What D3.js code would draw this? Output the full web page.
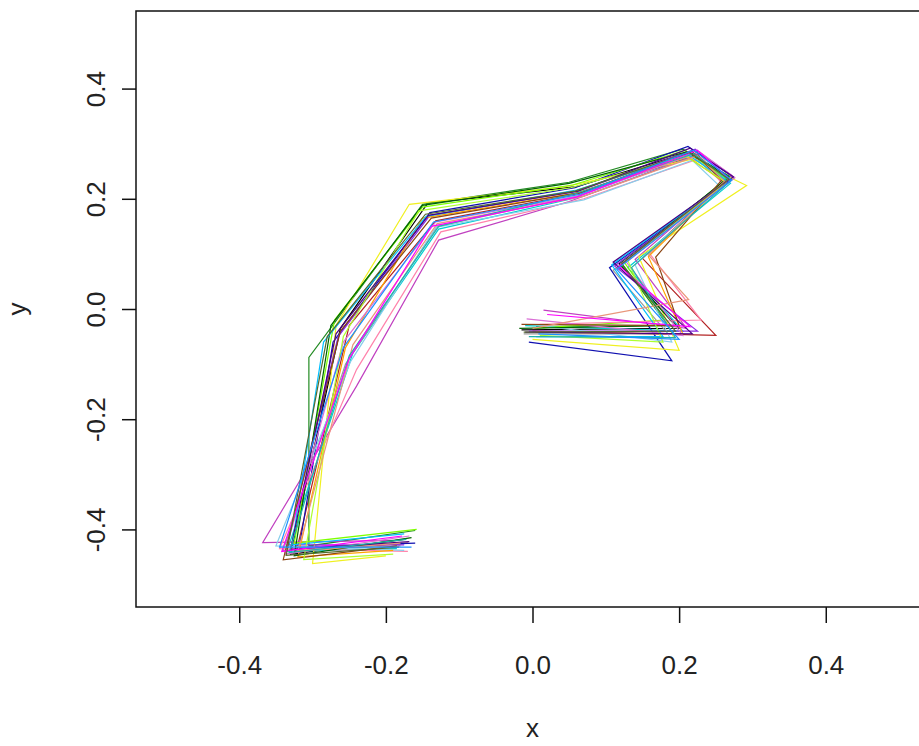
<!DOCTYPE html>
<html>
<head>
<meta charset="utf-8">
<script src="https://cdn.jsdelivr.net/npm/d3@7"></script>
<style>
  html, body { margin: 0; padding: 0; background: #fff; }
  svg { display: block; }
  text { font-family: "Liberation Sans", Arial, sans-serif; fill: #222; }
</style>
</head>
<body>
<svg id="chart" width="919" height="746"></svg>
<script>
// ---- data: landmark outlines (x, y), 10 landmarks each ----
const s1  = [[-0.175,-0.418],[-0.330,-0.445],[-0.262,-0.035],[-0.143,0.192],[0.060,0.222],[0.215,0.285],[0.268,0.238],[0.118,0.082],[0.200,-0.035],[-0.015,-0.038]];
const s2  = [[-0.170,-0.425],[-0.322,-0.440],[-0.250,-0.030],[-0.132,0.160],[0.065,0.210],[0.225,0.280],[0.262,0.232],[0.150,0.092],[0.250,-0.048],[0.000,-0.040]];
const s3  = [[-0.160,-0.402],[-0.305,-0.430],[-0.305,-0.088],[-0.150,0.190],[0.050,0.230],[0.205,0.290],[0.270,0.240],[0.120,0.085],[0.185,-0.030],[0.005,-0.032]];
const s4  = [[-0.160,-0.425],[-0.318,-0.432],[-0.272,-0.060],[-0.140,0.175],[0.058,0.220],[0.212,0.295],[0.275,0.238],[0.105,0.075],[0.190,-0.094],[-0.005,-0.060]];
const s5  = [[-0.185,-0.435],[-0.335,-0.440],[-0.245,-0.080],[-0.128,0.145],[0.070,0.205],[0.220,0.278],[0.270,0.228],[0.130,0.075],[0.205,-0.040],[-0.010,-0.030]];
const s6  = [[-0.190,-0.420],[-0.368,-0.424],[-0.240,-0.140],[-0.128,0.125],[0.050,0.195],[0.230,0.282],[0.272,0.242],[0.140,0.090],[0.210,-0.035],[0.015,-0.002]];
const s7  = [[-0.200,-0.448],[-0.300,-0.462],[-0.268,-0.030],[-0.168,0.190],[0.045,0.222],[0.218,0.272],[0.292,0.224],[0.145,0.095],[0.200,-0.075],[0.000,-0.055]];
const s8  = [[-0.180,-0.430],[-0.340,-0.438],[-0.255,-0.100],[-0.130,0.150],[0.062,0.205],[0.215,0.283],[0.262,0.226],[0.110,0.070],[0.185,-0.045],[-0.012,-0.045]];
const s9  = [[-0.158,-0.400],[-0.325,-0.425],[-0.270,-0.020],[-0.150,0.185],[0.055,0.225],[0.208,0.288],[0.265,0.236],[0.125,0.085],[0.180,-0.020],[0.000,-0.035]];
const s10 = [[-0.170,-0.440],[-0.345,-0.435],[-0.240,-0.110],[-0.125,0.140],[0.070,0.200],[0.232,0.275],[0.258,0.228],[0.160,0.100],[0.230,-0.020],[0.010,-0.028]];
const s11 = [[-0.175,-0.428],[-0.335,-0.428],[-0.265,-0.050],[-0.140,0.170],[0.062,0.214],[0.222,0.290],[0.270,0.235],[0.112,0.078],[0.225,-0.040],[-0.005,-0.040]];
const s12 = [[-0.175,-0.438],[-0.350,-0.430],[-0.248,-0.095],[-0.132,0.148],[0.070,0.198],[0.218,0.270],[0.256,0.222],[0.140,0.080],[0.190,-0.060],[0.010,-0.030]];
const s13 = [[-0.190,-0.438],[-0.320,-0.450],[-0.255,-0.070],[-0.150,0.165],[0.058,0.210],[0.212,0.276],[0.262,0.230],[0.158,0.095],[0.205,-0.045],[0.005,-0.042]];
const s14 = [[-0.165,-0.415],[-0.325,-0.448],[-0.275,-0.030],[-0.150,0.188],[0.050,0.228],[0.210,0.285],[0.268,0.240],[0.120,0.080],[0.195,-0.030],[-0.018,-0.035]];
const s15 = [[-0.168,-0.412],[-0.338,-0.445],[-0.258,-0.060],[-0.132,0.158],[0.066,0.206],[0.228,0.285],[0.276,0.238],[0.128,0.085],[0.205,-0.048],[-0.008,-0.018]];
const s16 = [[-0.175,-0.408],[-0.328,-0.428],[-0.285,-0.060],[-0.145,0.168],[0.060,0.216],[0.212,0.280],[0.266,0.232],[0.108,0.080],[0.178,-0.050],[0.005,-0.050]];
const s17 = [[-0.185,-0.430],[-0.340,-0.455],[-0.262,-0.040],[-0.138,0.165],[0.068,0.212],[0.218,0.286],[0.258,0.234],[0.168,0.094],[0.200,-0.030],[-0.015,-0.028]];
const s18 = [[-0.190,-0.445],[-0.312,-0.455],[-0.258,-0.050],[-0.155,0.178],[0.052,0.220],[0.208,0.278],[0.264,0.230],[0.130,0.088],[0.178,-0.060],[0.010,-0.048]];
const s19 = [[-0.168,-0.422],[-0.330,-0.436],[-0.268,-0.045],[-0.142,0.170],[0.062,0.214],[0.215,0.292],[0.274,0.240],[0.110,0.085],[0.218,-0.045],[-0.010,-0.042]];
const s20 = [[-0.180,-0.425],[-0.320,-0.440],[-0.245,-0.065],[-0.130,0.155],[0.068,0.204],[0.225,0.278],[0.262,0.232],[0.158,0.098],[0.213,0.017],[0.000,-0.035]];
const s21 = [[-0.172,-0.418],[-0.332,-0.442],[-0.250,-0.085],[-0.128,0.150],[0.060,0.210],[0.220,0.282],[0.270,0.232],[0.135,0.075],[0.195,-0.052],[-0.005,-0.050]];
const s22 = [[-0.178,-0.412],[-0.342,-0.440],[-0.250,-0.090],[-0.138,0.150],[0.060,0.203],[0.225,0.288],[0.268,0.236],[0.118,0.078],[0.215,-0.032],[0.020,-0.010]];
const s23 = [[-0.182,-0.432],[-0.336,-0.447],[-0.280,-0.050],[-0.146,0.172],[0.058,0.214],[0.214,0.284],[0.268,0.236],[0.122,0.082],[0.195,-0.040],[-0.012,-0.042]];
const s24 = [[-0.165,-0.432],[-0.345,-0.432],[-0.258,-0.070],[-0.135,0.158],[0.064,0.208],[0.220,0.288],[0.272,0.234],[0.115,0.072],[0.200,-0.055],[0.008,-0.045]];

const shapes = [s1,s2,s3,s4,s5,s6,s7,s8,s9,s10,s11,s12,s13,s14,s15,s16,s17,s18,s19,s20,s21,s22,s23,s24];
const colors = ["#000000","#B22222","#228B22","#1010B0","#00CED1","#C040C0","#F0F020","#999999",
                "#7FFF00","#FF82AB","#8A2BE2","#87CEEB","#FFA500","#006400","#DA70D6","#00BFFF",
                "#8B4513","#ADFF2F","#4B0082","#E9967A","#20B2AA","#FF00FF","#556B2F","#1E90FF"];

const xTicks = [-0.4,-0.2,0.0,0.2,0.4];
const yTicks = [-0.4,-0.2,0.0,0.2,0.4];
const xDomain = [-0.5408, 0.5408];
const yDomain = [-0.5408, 0.5408];

// ---- layout ----
const svg = d3.select("#chart");
const L = 136, T = 11, R = 929, B = 607;
const x = d3.scaleLinear().domain(xDomain).range([L, R]);
const y = d3.scaleLinear().domain(yDomain).range([B, T]);
const fmt = d => d3.format(".1f")(d).replace("\u2212", "-");

// lines
const line = d3.line().x(d => x(d[0])).y(d => y(d[1]));
svg.append("g").selectAll("path")
  .data(shapes)
  .join("path")
  .attr("d", line)
  .attr("fill", "none")
  .attr("stroke", (d, i) => colors[i % colors.length])
  .attr("stroke-width", 1.2)
  .attr("stroke-linejoin", "miter");

// box
svg.append("rect")
  .attr("x", L).attr("y", T).attr("width", R - L).attr("height", B - T)
  .attr("fill", "none").attr("stroke", "#111").attr("stroke-width", 1.5);

// x axis
const xa = svg.append("g").attr("transform", `translate(0,${B})`)
  .call(d3.axisBottom(x).tickValues(xTicks).tickFormat(fmt).tickSize(16).tickPadding(0));
xa.select(".domain").remove();
xa.selectAll(".tick line").attr("stroke", "#111").attr("stroke-width", 1.5);
xa.selectAll(".tick text").attr("y", 67).attr("dy", 0)
  .style("font-size", "26px").style("font-family", "Liberation Sans, Arial, sans-serif").attr("fill", "#222");

// y axis
const ya = svg.append("g").attr("transform", `translate(${L},0)`)
  .call(d3.axisLeft(y).tickValues(yTicks).tickFormat(fmt).tickSize(14).tickPadding(0));
ya.select(".domain").remove();
ya.selectAll(".tick line").attr("stroke", "#111").attr("stroke-width", 1.5);
ya.selectAll(".tick text")
  .attr("x", 0).attr("dy", 0).attr("text-anchor", "middle")
  .attr("transform", "translate(-31,0) rotate(-90)")
  .style("font-size", "26px").style("font-family", "Liberation Sans, Arial, sans-serif").attr("fill", "#222");

// axis titles
svg.append("text").attr("x", (x(0))).attr("y", 737).attr("text-anchor", "middle")
  .style("font-size", "26px").text("x");
svg.append("text").attr("transform", `translate(26,${(T + B) / 2}) rotate(-90)`)
  .attr("text-anchor", "middle").style("font-size", "26px").text("y");
</script>
</body>
</html>
